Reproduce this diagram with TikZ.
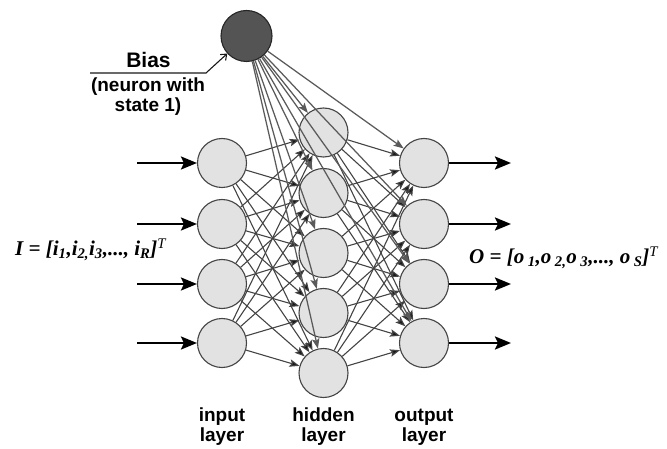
\documentclass[tikz,border=0pt]{standalone}
\usepackage{fontspec}
\setmainfont{Liberation Serif}
\setsansfont{Liberation Sans}
\usetikzlibrary{arrows.meta}
\definecolor{edgegray}{HTML}{444444}
\definecolor{biasgray}{HTML}{5A5A5A}
\definecolor{cellfill}{HTML}{E2E2E2}
\tikzset{
  neuron/.style={circle, draw=edgegray, fill=cellfill, line width=1.1pt, minimum size=49pt, inner sep=0pt},
  biasneuron/.style={circle, draw=black!85, fill=black!67, line width=1.1pt, minimum size=51pt, inner sep=0pt},
  link/.style={draw=edgegray, line width=1.1pt, -{Stealth[length=10pt,width=7.5pt,inset=2pt,fill=black!90]}},
  biaslink/.style={draw=biasgray, line width=1.25pt, -{Stealth[length=10pt,width=7.5pt,inset=2pt,fill=biasgray]}},
  ioarrow/.style={draw=black, line width=2.4pt, -{Stealth[length=16pt,width=13pt,inset=3pt]}},
  caption/.style={font=\sffamily\bfseries\fontsize{19}{20}\selectfont, align=center, inner sep=0pt},
  vectorlabel/.style={font=\bfseries\itshape\fontsize{21}{22}\selectfont, inner sep=0pt}
}
\begin{document}
\begin{tikzpicture}[x=1pt, y=-1pt]
\useasboundingbox (0,0) rectangle (667,449);

% neurons
\node[biasneuron] (b) at (246.5,36) {};
\foreach \k/\y in {1/163,2/224,3/284,4/343} {
  \node[neuron] (in\k) at (222,\y) {};
  \node[neuron] (out\k) at (424,\y) {};
}
\foreach \k/\y in {1/132.5,2/193,3/253,4/313,5/373} {
  \node[neuron] (h\k) at (323.5,\y) {};
}

% fully connected weights
\foreach \i in {1,...,4} {
  \foreach \j in {1,...,5} {
    \draw[link] (in\i) -- (h\j);
  }
}
\foreach \j in {1,...,5} {
  \foreach \o in {1,...,4} {
    \draw[link] (h\j) -- (out\o);
  }
}
% bias connections
\foreach \j in {1,...,5} { \draw[biaslink] (b) -- (h\j); }
\foreach \o in {1,...,4} { \draw[biaslink] (b) -- (out\o); }

% network inputs and outputs
\foreach \k/\y in {1/163,2/224,3/284,4/343} {
  \coordinate (src\k) at (137,\y);
  \coordinate (dst\k) at (511,\y);
  \draw[ioarrow] (src\k) -- (in\k);
  \draw[ioarrow] (out\k) -- (dst\k);
}

% bias annotation
\node[caption, font=\sffamily\bfseries\fontsize{21}{22}\selectfont] (biastxt) at (148.5,60) {Bias};
\node[caption] (biasnote) at (148,97) {(neuron with\\state 1)};
\coordinate (leader) at (90,73);
\coordinate (knee) at (206,73);
\draw[black!90, line width=1.1pt, -{Straight Barb[length=5pt,width=8pt]}] (leader) -- (knee) -- (b);

% vector labels
\node[vectorlabel, anchor=west] (ivec) at (15,250)
  {I = [i\textsubscript{1},i\textsubscript{2,}i\textsubscript{3},..., i\textsubscript{R}]\textsuperscript{\mdseries T}};
\node[vectorlabel, anchor=west] (ovec) at (469,258)
  {O = [o\,\textsubscript{1},o\,\textsubscript{2,}o\,\textsubscript{3},..., o\,\textsubscript{S}]\textsuperscript{\mdseries T}};

% layer captions
\node[caption] (lin) at (222,427) {input\\layer};
\node[caption] (lhid) at (323.5,427) {hidden\\layer};
\node[caption] (lout) at (424,427) {output\\layer};
\end{tikzpicture}
\end{document}
